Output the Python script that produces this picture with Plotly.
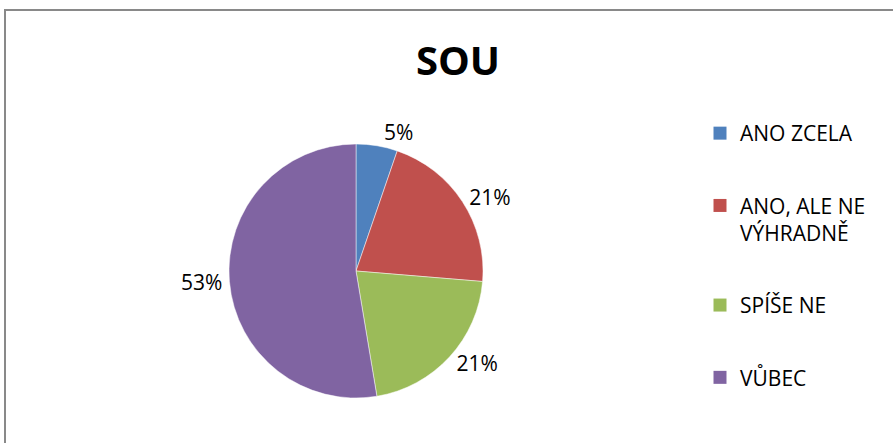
import plotly.graph_objects as go

categories = ["ANO ZCELA", "ANO, ALE NE<br>VÝHRADNĚ", "SPÍŠE NE", "VŮBEC"]
values = [1, 4, 4, 10]
colors = ["#4F81BD", "#C0504D", "#9BBB59", "#8064A2"]
title_text = "SOU"

W, H = 893, 443
FONT = "Open Sans"

fig = go.Figure()

fig.add_trace(go.Pie(
    labels=categories,
    values=values,
    sort=False,
    direction="clockwise",
    rotation=0,
    marker=dict(colors=colors, line=dict(color="rgba(255,255,255,0.6)", width=0.8)),
    textinfo="percent",
    texttemplate="%{percent:.0%}",
    textposition="outside",
    outsidetextfont=dict(family=FONT, size=21, color="#000000"),
    showlegend=False,
    domain=dict(x=[229 / W, 483 / W], y=[1 - 398 / H, 1 - 144 / H]),
    hoverinfo="label+percent",
))

for name, col in zip(categories, colors):
    fig.add_trace(go.Scatter(
        x=[None], y=[None], mode="markers", name=name,
        legendgroup=name,
        marker=dict(symbol="square", size=13, color=col),
    ))

fig.update_layout(
    width=W, height=H,
    margin=dict(l=0, r=0, t=0, b=0),
    paper_bgcolor="white",
    plot_bgcolor="white",
    xaxis=dict(visible=False),
    yaxis=dict(visible=False),
    title=dict(text="<b>" + title_text + "</b>", x=458 / W, xanchor="center",
               y=1 - 61 / H, yanchor="middle",
               font=dict(family=FONT, size=40, color="#000000")),
    legend=dict(
        x=700 / W, xanchor="left", y=1 - 113 / H, yanchor="top",
        font=dict(family=FONT, size=21, color="#000000"),
        tracegroupgap=42, valign="top", itemwidth=30,
        bgcolor="rgba(0,0,0,0)",
    ),
    shapes=[dict(type="rect", xref="paper", yref="paper",
                 x0=5 / W, x1=1.02, y0=-0.02, y1=1 - 10 / H,
                 line=dict(color="#898989", width=2), fillcolor="rgba(0,0,0,0)")],
)

fig.write_html("out.html", config={"displayModeBar": False},
               post_script="document.body.style.margin='0';")
